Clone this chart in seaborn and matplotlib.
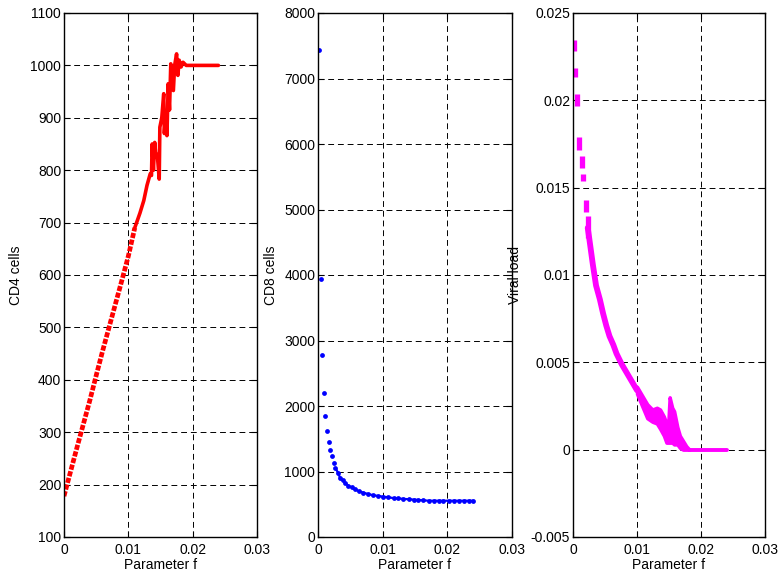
import numpy as np
import pandas as pd
import matplotlib
matplotlib.use("Agg")
import matplotlib.pyplot as plt
import seaborn as sns

# ---------------- data ----------------
# CD4 cells vs parameter f
cd4_f_low = [0.0, 0.001, 0.002, 0.003, 0.004, 0.005, 0.006, 0.007, 0.008, 0.009, 0.010, 0.011]
cd4_v_low = [178, 224, 270, 315, 360, 408, 455, 500, 545, 590, 636, 690]
cd4_f_noisy = [0.0110, 0.0118, 0.0124, 0.0129, 0.0134, 0.0136, 0.0137, 0.0139, 0.0141, 0.0143,
               0.0145, 0.0148, 0.0149, 0.0152, 0.0155, 0.0156, 0.0158, 0.0160, 0.0162, 0.0164,
               0.0166, 0.0168, 0.0170, 0.0172, 0.0175, 0.0177, 0.0179, 0.0182, 0.0185, 0.0190,
               0.0200, 0.0210, 0.0220, 0.0230, 0.0240]
cd4_v_noisy = [690, 718, 742, 771, 793, 790, 850, 800, 853, 825,
               830, 783, 882, 900, 946, 870, 905, 866, 965, 915,
               1003, 960, 952, 1000, 1022, 981, 1010, 997, 1006, 1000,
               1000, 1000, 1000, 1000, 1000]

# CD8 cells vs parameter f
cd8_f = [0.00016, 0.00041, 0.00062, 0.00088, 0.00109, 0.00140, 0.00166, 0.0019, 0.0022, 0.0024,
         0.0027, 0.0031, 0.0034, 0.0038, 0.0042, 0.0047, 0.0052, 0.0057, 0.0063, 0.0070,
         0.0078, 0.0085, 0.0093, 0.0101, 0.0109, 0.0117, 0.0124, 0.0132, 0.0140, 0.0148,
         0.0155, 0.0163, 0.0171, 0.0179, 0.0187, 0.0194, 0.0202, 0.0210, 0.0218, 0.0225,
         0.0233, 0.0240]
cd8_v = [7430, 3936, 2783, 2195, 1848, 1613, 1445, 1327, 1232, 1137,
         1053, 980, 907, 868, 823, 784, 756, 728, 700, 677,
         655, 638, 627, 616, 605, 594, 588, 582, 577, 571,
         566, 560, 554, 554, 554, 554, 554, 554, 554, 554,
         554, 554]

# Viral load: separated oscillation ranges at small f
vl_dash_f = [0.0001, 0.0003, 0.0007, 0.0010, 0.0014, 0.0016, 0.0020, 0.0023]
vl_dash_lo = [0.02282, 0.02135, 0.01967, 0.01715, 0.01610, 0.01536, 0.01362, 0.01210]
vl_dash_hi = [0.02345, 0.02187, 0.02034, 0.01788, 0.01683, 0.01578, 0.01431, 0.01336]
# Viral load: continuous part
vl_f = [0.0025, 0.0028, 0.0031, 0.0036, 0.0042, 0.0047, 0.0052, 0.0057, 0.0063, 0.0068,
        0.0076, 0.0084, 0.0092, 0.0100]
vl_v = [0.0122, 0.0114, 0.0106, 0.0094, 0.0086, 0.0078, 0.0071, 0.0065, 0.0060, 0.0055,
        0.0049, 0.0044, 0.0039, 0.0034]
# Viral load: noisy band
vl_band_f = [0.0100, 0.0108, 0.0116, 0.0124, 0.0131, 0.0136, 0.0142, 0.0146, 0.0149, 0.0151,
             0.0155, 0.0158, 0.0163, 0.0167, 0.0172, 0.0177, 0.0182]
vl_band_lo = [0.0032, 0.0025, 0.0018, 0.0016, 0.0015, 0.0012, 0.0008, 0.0004, 0.0004, 0.0004,
              0.0004, 0.0003, 0.0003, 0.0001, 0.0000, 0.0000, 0.0000]
vl_band_hi = [0.0036, 0.0031, 0.0026, 0.0023, 0.0024, 0.0023, 0.0019, 0.0015, 0.0016, 0.0030,
              0.0024, 0.0022, 0.0013, 0.0008, 0.0005, 0.0002, 0.0000]
vl_flat_f = [0.0182, 0.0241]
vl_flat_v = [0.0, 0.0]

x_ticks = [0, 0.01, 0.02, 0.03]
x_tick_labels = ["0", "0.01", "0.02", "0.03"]
cd4_ticks = list(range(100, 1101, 100))
cd8_ticks = list(range(0, 8001, 1000))
vl_ticks = [-0.005, 0, 0.005, 0.01, 0.015, 0.02, 0.025]
vl_tick_labels = ["-0.005", "0", "0.005", "0.01", "0.015", "0.02", "0.025"]

# ---------------- style ----------------
sns.set_theme(style="white")
plt.rcParams["font.family"] = ["Liberation Sans", "DejaVu Sans"]
plt.rcParams["font.size"] = 10
plt.rcParams["text.color"] = "black"
plt.rcParams["axes.labelcolor"] = "black"

fig = plt.figure(figsize=(7.8, 5.76), dpi=100)
W, H = 780, 576
def axpos(l, r, t, b):
    return [l / W, 1 - b / H, (r - l) / W, (b - t) / H]

ax1 = fig.add_axes(axpos(64, 257, 13, 537))
ax2 = fig.add_axes(axpos(318, 512, 13, 537))
ax3 = fig.add_axes(axpos(573, 765, 13, 537))

def style(ax, yticks, ylab, ylab_x, yticklabels=None):
    ax.set_xlim(0, 0.03)
    ax.set_xticks(x_ticks)
    ax.set_xticklabels(x_tick_labels)
    ax.set_yticks(yticks)
    if yticklabels is not None:
        ax.set_yticklabels(yticklabels)
    ax.set_ylim(yticks[0], yticks[-1])
    ax.grid(True, color="black", linestyle=(0, (6, 4)), linewidth=0.7)
    ax.set_axisbelow(True)
    for s in ax.spines.values():
        s.set_visible(True)
        s.set_color("black")
        s.set_linewidth(1.0)
    ax.tick_params(direction="in", length=4, width=0.8, top=True, right=True,
                   bottom=True, left=True, labelsize=10, colors="black")
    ax.tick_params(axis="y", pad=2)
    ax.tick_params(axis="x", pad=4)
    ax.set_xlabel("Parameter f", fontsize=10, color="black")
    ax.set_ylabel(ylab, fontsize=10, color="black")
    ax.xaxis.set_label_coords(0.5, -0.040)
    ax.yaxis.set_label_coords(ylab_x, 0.5)
    ax.set_facecolor("white")

# Panel 1: CD4
df_low = pd.DataFrame({"f": cd4_f_low, "v": cd4_v_low})
df_noisy = pd.DataFrame({"f": cd4_f_noisy, "v": cd4_v_noisy})
sns.lineplot(data=df_low, x="f", y="v", ax=ax1, color="red", linewidth=3.4,
             sort=False, estimator=None)
ax1.lines[-1].set_linestyle((0, (1.1, 0.35)))
sns.lineplot(data=df_noisy, x="f", y="v", ax=ax1, color="red", linewidth=2.6,
             sort=False, estimator=None)
style(ax1, cd4_ticks, "CD4 cells", -0.212)

# Panel 2: CD8
df8 = pd.DataFrame({"f": cd8_f, "v": cd8_v})
sns.lineplot(data=df8.iloc[10:], x="f", y="v", ax=ax2, color="blue", linewidth=1.6,
             sort=False, estimator=None)
sns.scatterplot(data=df8, x="f", y="v", ax=ax2, color="blue", s=12, linewidth=0)
style(ax2, cd8_ticks, "CD8 cells", -0.206)

# Panel 3: viral load
ax3.vlines(vl_dash_f, vl_dash_lo, vl_dash_hi, color="magenta", linewidth=3.8)
dfv = pd.DataFrame({"f": [vl_dash_f[-1]] + vl_f, "v": [0.0127] + vl_v})
sns.lineplot(data=dfv, x="f", y="v", ax=ax3, color="magenta", linewidth=4.2,
             sort=False, estimator=None)
ax3.fill_between(vl_band_f, vl_band_lo, vl_band_hi, color="magenta", linewidth=2.5,
                 edgecolor="magenta")
dff = pd.DataFrame({"f": vl_flat_f, "v": vl_flat_v})
sns.lineplot(data=dff, x="f", y="v", ax=ax3, color="magenta", linewidth=2.8,
             sort=False, estimator=None)
style(ax3, vl_ticks, "Viral load", -0.266, vl_tick_labels)

fig.savefig("out.png", dpi=100, facecolor="white")
